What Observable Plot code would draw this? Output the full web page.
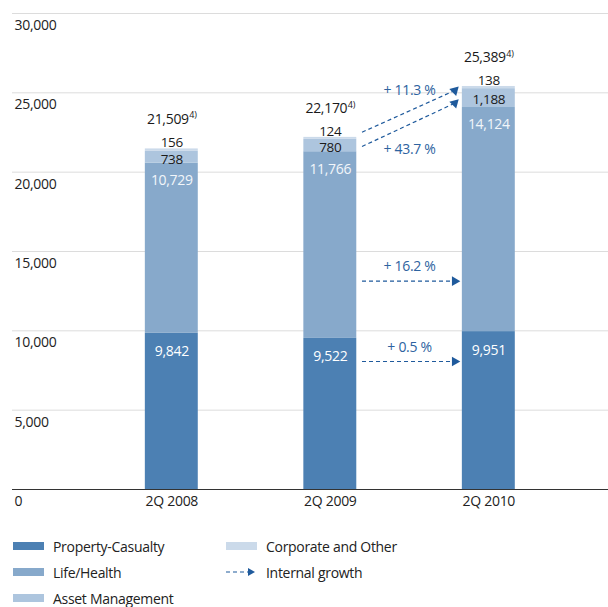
<!DOCTYPE html>
<html><head><meta charset="utf-8">
<script src="https://cdn.jsdelivr.net/npm/d3@7"></script>
<script src="https://cdn.jsdelivr.net/npm/@observablehq/plot@0.6"></script>
<style>
body{margin:0;background:#fff;font-family:"Open Sans",sans-serif;}
#legend{display:grid;grid-template-columns:213px 300px;grid-template-rows:repeat(3,26px);grid-auto-flow:column;padding:17px 0 0 13px;font-size:14px;color:#222;letter-spacing:-0.3px;}
.item{display:flex;align-items:center;}
.sw{width:31px;height:8px;margin-right:9px;flex:none;}
</style></head><body>
<div id="chart"></div><div id="legend"></div>
<script>
const categories = ["2Q 2008", "2Q 2009", "2Q 2010"];
const segments = ["Property-Casualty", "Life/Health", "Asset Management", "Corporate and Other"];
const propertyCasualty = [9842, 9522, 9951];
const lifeHealth = [10729, 11766, 14124];
const assetManagement = [738, 780, 1188];
const corporateOther = [156, 124, 138];
const totals = [21509, 22170, 25389];
const yTicks = [0, 5000, 10000, 15000, 20000, 25000, 30000];
const growthLabels = ["+ 0.5 %", "+ 16.2 %", "+ 43.7 %", "+ 11.3 %"];
const growthFromValue = [8067, 13128, 21617, 22518];
const growthToValue = [8067, 13128, 24346, 25146];
const growthLabelValue = [8949, 14073, 21428, 25146];
const colors = ["#4c80b3", "#87a9cb", "#adc5de", "#cbdaea"];
const arrowColor = "#1f5a9c";

const seriesValues = [propertyCasualty, lifeHealth, assetManagement, corporateOther];
const rows = [];
categories.forEach((c, i) => {
  let base = 0;
  segments.forEach((s, j) => {
    const v = seriesValues[j][i];
    rows.push({i, cat: c, seg: s, j, v, y1: base, y2: base + v});
    base += v;
  });
});
const growth = growthLabels.map((t, k) => ({
  label: t, from: 1, to: 2,
  yFrom: growthFromValue[k], yTo: growthToValue[k], yLabel: growthLabelValue[k]
}));
const totalRows = categories.map((c, i) => ({i, total: totals[i]}));
const fmt = d3.format(",");
const hw = 0.167;

const chart = Plot.plot({
  width: 608, height: 516,
  marginLeft: 12, marginRight: 0, marginTop: 13, marginBottom: 27,
  style: {fontFamily: "'Open Sans', sans-serif", fontSize: "14px", color: "#222", letterSpacing: "-0.3px"},
  x: {type: "linear", domain: [-1.005, 2.755], axis: null},
  y: {domain: [0, 30000], axis: null},
  color: {domain: segments, range: colors},
  marks: [
    Plot.ruleY(yTicks.filter(t => t > 0), {stroke: "#dcdcdc", strokeWidth: 1}),
    Plot.rectY(rows, {x1: d => d.i - hw, x2: d => d.i + hw, y1: "y1", y2: "y2", fill: "seg"}),
    Plot.ruleY([0], {stroke: "#333", strokeWidth: 1}),
    Plot.text(yTicks, {y: d => d, text: d => fmt(d), frameAnchor: "left", textAnchor: "start", dx: 2, dy: 12, fill: "#222"}),
    Plot.text(categories, {x: (d, i) => i, y: 0, text: d => d, dy: 12, fill: "#222"}),
    Plot.text(rows.filter(d => d.j === 0), {x: "i", y: "y2", text: d => fmt(d.v), dy: 18.5, fill: "#fff"}),
    Plot.text(rows.filter(d => d.j === 1), {x: "i", y: "y2", text: d => fmt(d.v), dy: 17.5, fill: "#f2f6fa"}),
    Plot.text(rows.filter(d => d.j === 2), {x: "i", y: d => (d.y1 + d.y2) / 2, text: d => fmt(d.v), dy: 2, fontSize: 13.5, fill: "#1a1a1a"}),
    Plot.text(rows.filter(d => d.j === 3), {x: "i", y: "y2", text: d => fmt(d.v), dy: -6, fontSize: 13.5, fill: "#1a1a1a"}),
    Plot.text(totalRows, {x: "i", y: "total", text: d => fmt(d.total), textAnchor: "end", dx: 17, dy: -29, fill: "#1a1a1a"}),
    Plot.text(totalRows, {x: "i", y: "total", text: d => "4)", textAnchor: "start", dx: 17.5, dy: -33, fontSize: 9, fill: "#1a1a1a"}),
    Plot.link(growth, {x1: d => d.from + 0.2, x2: d => d.to - 0.215, y1: "yFrom", y2: "yTo", stroke: arrowColor, strokeWidth: 1.2, strokeDasharray: "4,3"}),
    Plot.dot(growth, {x: d => d.to - 0.215, y: "yTo", symbol: "triangle", r: 3.6, fill: arrowColor, stroke: null, rotate: d => d.yFrom === d.yTo ? 90 : 165}),
    Plot.text(growth, {x: d => (d.from + d.to) / 2, y: "yLabel", text: "label", fill: "#2e63a0"})
  ]
});
document.getElementById("chart").appendChild(chart);

const legend = document.getElementById("legend");
segments.forEach((s, j) => {
  const it = document.createElement("div");
  it.className = "item";
  it.innerHTML = `<span class="sw" style="background:${colors[j]}"></span><span>${s}</span>`;
  legend.appendChild(it);
});
const g = document.createElement("div");
g.className = "item";
g.innerHTML = `<svg width="31" height="10" style="margin-right:9px;flex:none"><line x1="0" y1="5" x2="22" y2="5" stroke="${arrowColor}" stroke-width="1.2" stroke-dasharray="4,3"/><path d="M22,1 L29,5 L22,9 Z" fill="${arrowColor}"/></svg><span>Internal growth</span>`;
legend.appendChild(g);
</script>
</body></html>
